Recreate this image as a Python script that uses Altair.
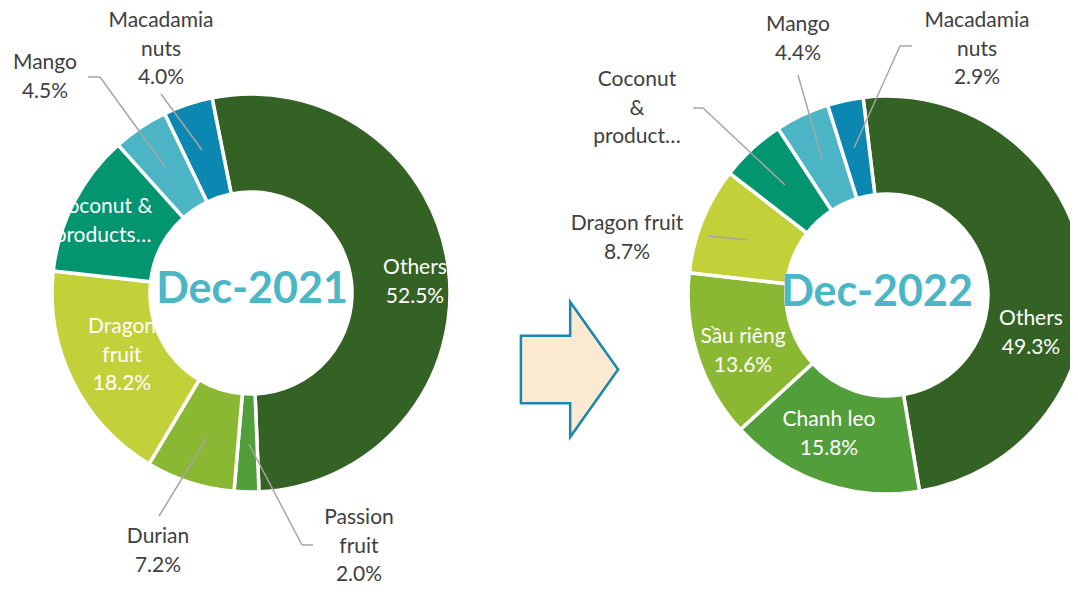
import altair as alt
import pandas as pd
import math

# ---------------- data ----------------
cats_2021 = ["Others", "Passion fruit", "Durian", "Dragon fruit", "Coconut & products", "Mango", "Macadamia nuts"]
vals_2021 = [52.5, 2.0, 7.2, 18.2, 11.6, 4.5, 4.0]
cats_2022 = ["Others", "Chanh leo", "Sầu riêng", "Dragon fruit", "Coconut & products", "Mango", "Macadamia nuts"]
vals_2022 = [49.3, 15.8, 13.6, 8.7, 5.3, 4.4, 2.9]
titles = ["Dec-2021", "Dec-2022"]

# label text split into lines (display only)
lines_2021 = [["Others"], ["Passion", "fruit"], ["Durian"], ["Dragon", "fruit"], ["Coconut &", "products…"], ["Mango"], ["Macadamia", "nuts"]]
lines_2022 = [["Others"], ["Chanh leo"], ["Sầu riêng"], ["Dragon fruit"], ["Coconut", "&", "product…"], ["Mango"], ["Macadamia", "nuts"]]
show_pct_2021 = [True, True, True, True, False, True, True]
show_pct_2022 = [True, True, True, True, False, True, True]

# ---------------- styles / layout ----------------
slice_colors = ["#346124", "#529e3a", "#8bb833", "#c2d03a", "#039470", "#4bb5c5", "#0b87b1"]
M = 8  # page margin
W, H = 1062, 576
FONT = "Lato"
LH = 28.5
GRAY = "#404040"
LEAD = "#a6a6a6"

donuts = [
    dict(cx=251, cy=293, start=-11.3, cats=cats_2021, vals=vals_2021, lines=lines_2021, pct=show_pct_2021,
         inside=[True, False, False, True, True, False, False],
         pos=[(415, 268), (359, 518), (158, 537), (122, 327), (103, 207), (45, 63), (161, 21)],
         leads=[None, [(313, 545), (302, 545), (249, 444)], [(159, 516), (207, 438)], None, None,
                [(88, 77), (100, 77), (166, 168)], [(161, 94), (202, 150)]],
         title_xy=(252, 290)),
    dict(cx=887, cy=295, start=-6.9, cats=cats_2022, vals=vals_2022, lines=lines_2022, pct=show_pct_2022,
         inside=[True, True, True, False, False, False, False],
         pos=[(1031, 319), (829, 420), (743, 337), (627, 224), (637, 80), (798, 25), (977, 21)],
         leads=[None, None, None, [(708, 236), (747, 240)], [(693, 108), (703, 108), (785, 185)],
                [(798, 75), (822, 159)], [(912, 46), (900, 46), (854, 148)]],
         title_xy=(877, 293)),
]
R_OUT, R_IN = 199, 101

layers = []
text_rows = []
rule_rows = []
title_rows = []
for d in donuts:
    df = pd.DataFrame({"cat": d["cats"], "val": d["vals"], "idx": range(len(d["cats"])), "col": slice_colors})
    s = math.radians(d["start"])
    arc = alt.Chart(df).mark_arc(innerRadius=R_IN, outerRadius=R_OUT, stroke="white", strokeWidth=3.5).encode(
        theta=alt.Theta("val:Q", stack=True, scale=alt.Scale(range=[s, s + 2 * math.pi])),
        order=alt.Order("idx:Q"),
        color=alt.Color("col:N", scale=None, legend=None),
        x=alt.value(d["cx"] - M),
        y=alt.value(d["cy"] - M),
    )
    layers.append(arc)
    for i, (c, v) in enumerate(zip(d["cats"], d["vals"])):
        ls = list(d["lines"][i])
        if d["pct"][i]:
            ls.append(f"{v:.1f}%")
        x0, y0 = d["pos"][i]
        for k, t in enumerate(ls):
            text_rows.append({"t": t, "x": x0 - M, "y": y0 + k * LH - M,
                              "col": "white" if d["inside"][i] else GRAY})
        lead = d["leads"][i]
        if lead:
            for a, b in zip(lead[:-1], lead[1:]):
                rule_rows.append({"x": a[0] - M, "y": a[1] - M, "x2": b[0] - M, "y2": b[1] - M})
    title_rows.append({"t": titles[len(title_rows)], "x": d["title_xy"][0] - M, "y": d["title_xy"][1] - M})

rules = alt.Chart(pd.DataFrame(rule_rows)).mark_rule(color=LEAD, strokeWidth=1.5).encode(
    x=alt.X("x:Q", scale=None, axis=None), y=alt.Y("y:Q", scale=None, axis=None),
    x2="x2:Q", y2="y2:Q")

texts = alt.Chart(pd.DataFrame(text_rows)).mark_text(font=FONT, fontSize=21, baseline="middle", align="center").encode(
    x=alt.X("x:Q", scale=None, axis=None), y=alt.Y("y:Q", scale=None, axis=None),
    text="t:N", color=alt.Color("col:N", scale=None, legend=None))

title_txt = alt.Chart(pd.DataFrame(title_rows)).mark_text(font=FONT, fontSize=43, fontWeight="bold",
                                                          baseline="middle", align="center", color="#4bb6c6").encode(
    x=alt.X("x:Q", scale=None, axis=None), y=alt.Y("y:Q", scale=None, axis=None), text="t:N")

# arrow between the two donuts
arrow_path = "M-0.72,-0.5 L0.01,-0.5 L0.01,-1 L0.72,0 L0.01,1 L0.01,0.5 L-0.72,0.5 Z"
arrow = alt.Chart(pd.DataFrame({"a": [1]})).mark_point(
    shape=arrow_path, size=135 * 135, filled=True, fill="#fbe9d2", stroke="#1a87ae", strokeWidth=2.5, opacity=1
).encode(x=alt.value(569.5 - M), y=alt.value(369.5 - M))

chart = alt.layer(*layers, arrow, rules, texts, title_txt).resolve_scale(theta="independent").properties(
    width=W, height=H, autosize=alt.AutoSizeParams(type="none"), padding=0
).configure_view(stroke=None)

chart.save("out.html", embed_options={"renderer": "svg", "actions": False})
